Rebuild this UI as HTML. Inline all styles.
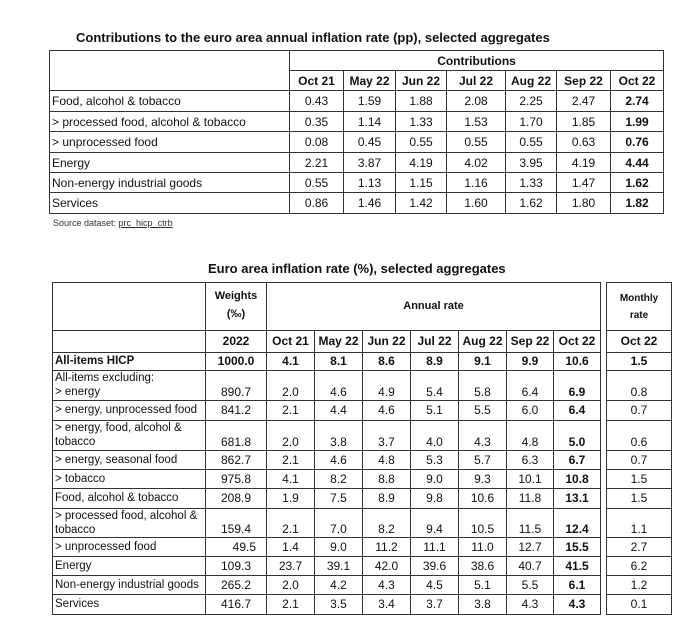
<!DOCTYPE html>
<html><head><meta charset="utf-8"><style>
body{margin:0;width:677px;height:631px;background:#fff;position:relative;overflow:hidden;font-family:"Liberation Sans",Arial,sans-serif;color:#111}
.t{position:absolute;font-weight:bold;font-size:13px;white-space:nowrap}
table{position:absolute;border-collapse:collapse;table-layout:fixed;font-size:12px}
td{border:1px solid #333;padding:0;text-align:center;white-space:nowrap;overflow:hidden}
td.l{text-align:left;padding-left:2px}
.b{font-weight:bold}
.hd td{font-weight:bold}
#t2 td,#t3 td{line-height:13px}
#t2 td.l{font-size:11.5px}
#t2 td.bot,#t3 td.bot{vertical-align:bottom;padding-bottom:1px}
#t2 td.l2{text-align:left;padding-left:2px;vertical-align:top;white-space:normal;line-height:14px;font-size:11.5px}
.src{position:absolute;left:53px;top:218px;font-size:9px;color:#333}
</style></head><body>
<div class="t" style="left:76px;top:30px">Contributions to the euro area annual inflation rate (pp), selected aggregates</div>
<table style="left:49px;top:50px;width:615px">
<colgroup><col style="width:240px"><col style="width:54px"><col style="width:52px"><col style="width:51px"><col style="width:59px"><col style="width:51px"><col style="width:54px"><col style="width:53px"></colgroup>
<tr style="height:20px"><td rowspan="2"></td><td colspan="7" class="b">Contributions</td></tr>
<tr style="height:20px" class="hd"><td>Oct 21</td><td>May 22</td><td>Jun 22</td><td>Jul 22</td><td>Aug 22</td><td>Sep 22</td><td>Oct 22</td></tr>
<tr style="height:21px"><td class="l">Food, alcohol &amp; tobacco</td><td>0.43</td><td>1.59</td><td>1.88</td><td>2.08</td><td>2.25</td><td>2.47</td><td class="b">2.74</td></tr>
<tr style="height:20px"><td class="l">&gt; processed food, alcohol &amp; tobacco</td><td>0.35</td><td>1.14</td><td>1.33</td><td>1.53</td><td>1.70</td><td>1.85</td><td class="b">1.99</td></tr>
<tr style="height:21px"><td class="l">&gt; unprocessed food</td><td>0.08</td><td>0.45</td><td>0.55</td><td>0.55</td><td>0.55</td><td>0.63</td><td class="b">0.76</td></tr>
<tr style="height:20px"><td class="l">Energy</td><td>2.21</td><td>3.87</td><td>4.19</td><td>4.02</td><td>3.95</td><td>4.19</td><td class="b">4.44</td></tr>
<tr style="height:20px"><td class="l">Non-energy industrial goods</td><td>0.55</td><td>1.13</td><td>1.15</td><td>1.16</td><td>1.33</td><td>1.47</td><td class="b">1.62</td></tr>
<tr style="height:21px"><td class="l">Services</td><td>0.86</td><td>1.46</td><td>1.42</td><td>1.60</td><td>1.62</td><td>1.80</td><td class="b">1.82</td></tr>
</table>
<div class="src">Source dataset: <u>prc_hicp_ctrb</u></div>

<div class="t" style="left:208px;top:261px">Euro area inflation rate (%), selected aggregates</div>
<table id="t2" style="left:52px;top:282px;width:548px">
<colgroup><col style="width:153px"><col style="width:61px"><col style="width:48px"><col style="width:48px"><col style="width:48px"><col style="width:48px"><col style="width:48px"><col style="width:47px"><col style="width:47px"></colgroup>
<tr style="height:48px"><td></td><td class="b" style="font-size:11px;line-height:18px;vertical-align:top;padding-top:4px">Weights<br>(‰)</td><td colspan="7" class="b" style="font-size:11px">Annual rate</td></tr>
<tr style="height:22px" class="hd"><td></td><td>2022</td><td>Oct 21</td><td>May 22</td><td>Jun 22</td><td>Jul 22</td><td>Aug 22</td><td>Sep 22</td><td>Oct 22</td></tr>
<tr style="height:18px" class="hd"><td class="l">All-items HICP</td><td>1000.0</td><td>4.1</td><td>8.1</td><td>8.6</td><td>8.9</td><td>9.1</td><td>9.9</td><td>10.6</td></tr>
<tr style="height:30px"><td class="l2">All-items excluding:<br>&gt; energy</td><td class="bot">890.7</td><td class="bot">2.0</td><td class="bot">4.6</td><td class="bot">4.9</td><td class="bot">5.4</td><td class="bot">5.8</td><td class="bot">6.4</td><td class="bot b">6.9</td></tr>
<tr style="height:20px"><td class="l">&gt; energy, unprocessed food</td><td>841.2</td><td>2.1</td><td>4.4</td><td>4.6</td><td>5.1</td><td>5.5</td><td>6.0</td><td class="b">6.4</td></tr>
<tr style="height:30px"><td class="l2">&gt; energy, food, alcohol &amp; tobacco</td><td class="bot">681.8</td><td class="bot">2.0</td><td class="bot">3.8</td><td class="bot">3.7</td><td class="bot">4.0</td><td class="bot">4.3</td><td class="bot">4.8</td><td class="bot b">5.0</td></tr>
<tr style="height:19px"><td class="l">&gt; energy, seasonal food</td><td>862.7</td><td>2.1</td><td>4.6</td><td>4.8</td><td>5.3</td><td>5.7</td><td>6.3</td><td class="b">6.7</td></tr>
<tr style="height:19px"><td class="l">&gt; tobacco</td><td>975.8</td><td>4.1</td><td>8.2</td><td>8.8</td><td>9.0</td><td>9.3</td><td>10.1</td><td class="b">10.8</td></tr>
<tr style="height:20px"><td class="l">Food, alcohol &amp; tobacco</td><td>208.9</td><td>1.9</td><td>7.5</td><td>8.9</td><td>9.8</td><td>10.6</td><td>11.8</td><td class="b">13.1</td></tr>
<tr style="height:29px"><td class="l2">&gt; processed food, alcohol &amp; tobacco</td><td class="bot">159.4</td><td class="bot">2.1</td><td class="bot">7.0</td><td class="bot">8.2</td><td class="bot">9.4</td><td class="bot">10.5</td><td class="bot">11.5</td><td class="bot b">12.4</td></tr>
<tr style="height:19px"><td class="l">&gt; unprocessed food</td><td style="text-align:right;padding-right:10px">49.5</td><td>1.4</td><td>9.0</td><td>11.2</td><td>11.1</td><td>11.0</td><td>12.7</td><td class="b">15.5</td></tr>
<tr style="height:19px"><td class="l">Energy</td><td>109.3</td><td>23.7</td><td>39.1</td><td>42.0</td><td>39.6</td><td>38.6</td><td>40.7</td><td class="b">41.5</td></tr>
<tr style="height:19px"><td class="l">Non-energy industrial goods</td><td>265.2</td><td>2.0</td><td>4.2</td><td>4.3</td><td>4.5</td><td>5.1</td><td>5.5</td><td class="b">6.1</td></tr>
<tr style="height:20px"><td class="l">Services</td><td>416.7</td><td>2.1</td><td>3.5</td><td>3.4</td><td>3.7</td><td>3.8</td><td>4.3</td><td class="b">4.3</td></tr>
</table>

<table id="t3" style="left:606px;top:282px;width:66px">
<colgroup><col style="width:65px"></colgroup>
<tr style="height:48px"><td class="b" style="font-size:10px;line-height:17px">Monthly<br>rate</td></tr>
<tr style="height:22px"><td class="b">Oct 22</td></tr>
<tr style="height:18px"><td class="b">1.5</td></tr>
<tr style="height:30px"><td class="bot">0.8</td></tr>
<tr style="height:20px"><td>0.7</td></tr>
<tr style="height:30px"><td class="bot">0.6</td></tr>
<tr style="height:19px"><td>0.7</td></tr>
<tr style="height:19px"><td>1.5</td></tr>
<tr style="height:20px"><td>1.5</td></tr>
<tr style="height:29px"><td class="bot">1.1</td></tr>
<tr style="height:19px"><td>2.7</td></tr>
<tr style="height:19px"><td>6.2</td></tr>
<tr style="height:19px"><td>1.2</td></tr>
<tr style="height:20px"><td>0.1</td></tr>
</table>
</body></html>
